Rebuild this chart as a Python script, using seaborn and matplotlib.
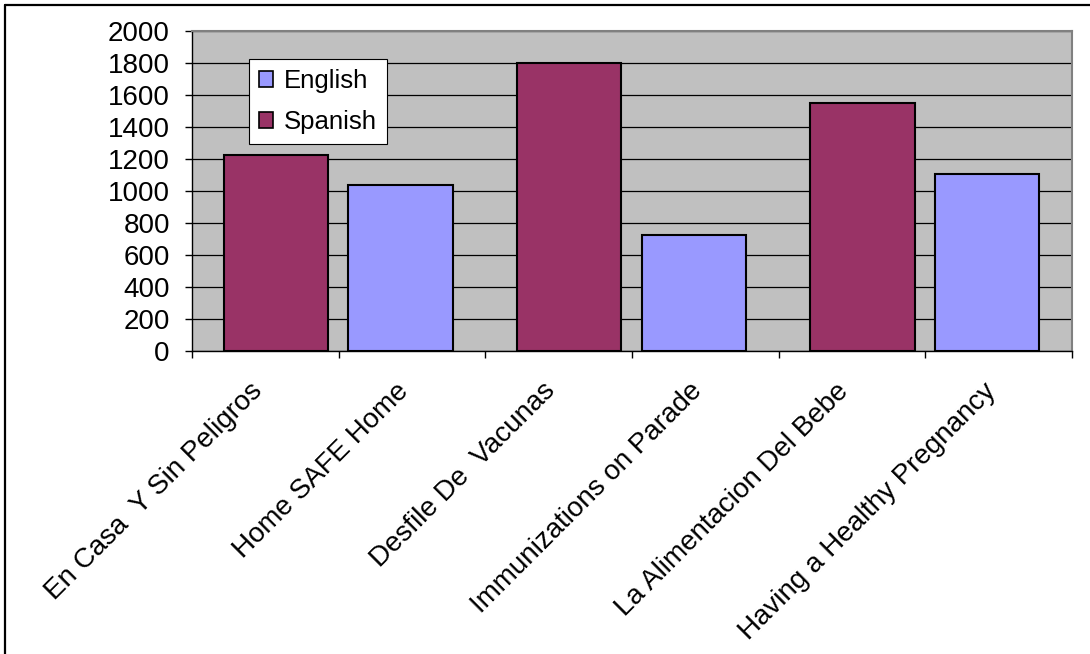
import matplotlib
matplotlib.use("Agg")
import matplotlib.pyplot as plt
import seaborn as sns
import pandas as pd
import numpy as np
from matplotlib.lines import Line2D
from matplotlib.ticker import MultipleLocator, FixedLocator
import matplotlib.transforms as mtransforms

titles = ["En Casa  Y Sin Peligros", "Home SAFE Home", "Desfile De  Vacunas",
          "Immunizations on Parade", "La Alimentacion Del Bebe", "Having a Healthy Pregnancy"]
languages = ["Spanish", "English", "Spanish", "English", "Spanish", "English"]
counts = [1223, 1035, 1800, 723, 1548, 1108]
hue_levels = ["English", "Spanish"]
colors = {"English": "#9999FF", "Spanish": "#993366"}

df = pd.DataFrame({"Title": titles, "Language": languages, "Count": counts})

sns.set_theme(style="white")
plt.rcParams['font.family'] = ['Liberation Sans', 'DejaVu Sans']
plt.rcParams['text.color'] = 'black'
plt.rcParams['xtick.color'] = 'black'
plt.rcParams['ytick.color'] = 'black'
plt.rcParams['xtick.labelcolor'] = 'black'
plt.rcParams['ytick.labelcolor'] = 'black'
plt.rcParams['axes.labelcolor'] = 'black'

fig = plt.figure(figsize=(10.9, 6.54), dpi=100)
ax = fig.add_axes([192/1090, 1-351/654, 880/1090, 320/654])
ax.set_facecolor("#C0C0C0")

sns.barplot(data=df, x="Title", y="Count", hue="Language", hue_order=hue_levels,
            order=titles, palette=colors, dodge=False, width=0.71,
            edgecolor="black", linewidth=1.5, saturation=1, ax=ax, zorder=3)

# Excel-style overlapping group offsets
offsets = {"English": -0.078, "Spanish": 0.072}
for cont, lvl in zip(ax.containers, hue_levels):
    for p in cont:
        p.set_x(p.get_x() + offsets[lvl])

ax.set_xlim(-0.5, len(titles) - 0.5)
ax.set_ylim(0, 2000)
ax.yaxis.set_major_locator(MultipleLocator(200))
ax.yaxis.grid(True, color="black", linewidth=0.9, zorder=0)
ax.set_axisbelow(True)
ax.set_xlabel("")
ax.set_ylabel("")

ax.tick_params(axis="y", which="major", direction="out", length=5, width=1,
               color="black", labelcolor="black", labelsize=20, pad=11, left=True)
ax.xaxis.set_minor_locator(FixedLocator(np.arange(-0.5, len(titles), 1.0)))
ax.tick_params(axis="x", which="minor", direction="out", length=5, width=1,
               color="black", bottom=True)
ax.tick_params(axis="x", which="major", length=0, labelsize=20, labelcolor="black", pad=26)

offset = mtransforms.ScaledTranslation(-7/100, 0, fig.dpi_scale_trans)
for lab in ax.get_xticklabels():
    lab.set_rotation(45)
    lab.set_ha("right")
    lab.set_va("center")
    lab.set_rotation_mode("anchor")
    lab.set_transform(lab.get_transform() + offset)

for s in ["left", "bottom"]:
    ax.spines[s].set_color("black")
    ax.spines[s].set_linewidth(1)
for s in ["top", "right"]:
    ax.spines[s].set_color("#808080")
    ax.spines[s].set_linewidth(1.5)

leg = ax.legend(loc="upper left", bbox_to_anchor=((249-192)/880, (351-59)/320),
                borderaxespad=0, fontsize=18.5, frameon=True, fancybox=False,
                framealpha=1, edgecolor="black", handlelength=0.55,
                handleheight=0.55, handletextpad=0.4, labelspacing=0.65,
                borderpad=0.4, title=None)
leg.get_frame().set_linewidth(0.8)
for t in leg.get_texts():
    t.set_color("black")
for h in leg.legend_handles:
    h.set_edgecolor("black")
    h.set_linewidth(1.2)

# outer chart border (top and left visible)
fig.add_artist(Line2D([5/1090, 1.0], [1-5/654, 1-5/654], color="black", linewidth=1.6,
                      transform=fig.transFigure))
fig.add_artist(Line2D([5/1090, 5/1090], [0.0, 1-5/654], color="black", linewidth=1.6,
                      transform=fig.transFigure))

fig.savefig("out.png", dpi=100, facecolor="white")
